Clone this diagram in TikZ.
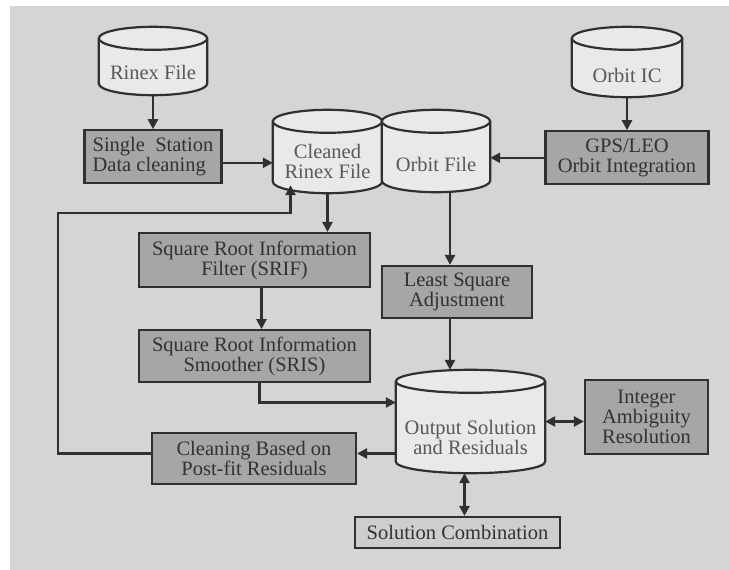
\documentclass[tikz,border=0pt]{standalone}
\usepackage{fontspec}
\setmainfont{Liberation Serif}
\usepackage{xcolor}
\usepackage{tikz}
\usetikzlibrary{arrows.meta, positioning, calc, backgrounds}

\definecolor{paper}{RGB}{213,213,213}
\definecolor{dbfill}{RGB}{233,233,233}
\definecolor{boxfill}{RGB}{166,166,166}
\definecolor{combfill}{RGB}{206,206,206}
\definecolor{ink}{RGB}{48,48,48}
\definecolor{txt}{RGB}{50,50,50}
\definecolor{dbtxt}{RGB}{88,88,88}

\begin{document}
\begin{tikzpicture}[
  x=1pt, y=-1pt,
  node distance=34pt,
  box/.style={draw=ink, line width=2.2pt, fill=boxfill, text=txt,
              font=\fontsize{20.5}{20}\selectfont, align=center,
              inner sep=2pt},
  combbox/.style={box, fill=combfill},
  db/.style={inner sep=0pt},
  dbtext/.style={text=dbtxt, font=\fontsize{20.5}{20}\selectfont,
                 align=center, inner sep=0pt},
  drum/.style={draw=ink, line width=2.2pt, fill=dbfill},
  arrow/.style={draw=ink, line width=2.4pt, -{Triangle[length=10pt,width=10pt]}},
  dblarrow/.style={draw=ink, line width=2.4pt,
                   {Triangle[length=10pt,width=10pt]}-{Triangle[length=10pt,width=10pt]}}
]
\useasboundingbox (0,0) rectangle (729,570);

% data stores (outline drawn below, on the background layer)
\node[db, minimum width=108pt, minimum height=68pt,
      label={[dbtext, yshift=-11pt]center:Rinex File}] (rinex) at (153,61) {};
\node[db, minimum width=109pt, minimum height=83pt,
      label={[dbtext, yshift=-10pt]center:Cleaned\\Rinex File}] (cleaned) at (327.5,151.5) {};
\node[db, minimum width=108pt, minimum height=82pt,
      label={[dbtext, yshift=-13pt]center:Orbit File}] (orbitf) at (436,151) {};
\node[db, minimum width=110pt, minimum height=70pt,
      label={[dbtext, yshift=-13pt]center:Orbit IC}] (orbitic) at (627,62) {};
\node[db, minimum width=149pt, minimum height=103pt,
      label={[dbtext, yshift=-16pt]center:Output Solution\\and Residuals}] (output) at (470.5,421.5) {};

% processing steps
\node[box, align=left, minimum width=137pt, minimum height=53pt, below=34pt of rinex]
      (single) {Single\enspace Station\\Data cleaning};
\node[box, minimum width=163pt, minimum height=53pt, below=33pt of orbitic] (gps) {GPS/LEO\\Orbit Integration};
\node[box, minimum width=231pt, minimum height=54pt] (srif) at (254.5,260) {Square Root Information\\Filter (SRIF)};
\node[box, minimum width=231pt, minimum height=52pt, below=41pt of srif] (sris) {Square Root Information\\Smoother (SRIS)};
\node[box, minimum width=150pt, minimum height=52pt] (lsa) at (457,292) {Least Square\\Adjustment};
\node[box, minimum width=123pt, minimum height=74pt] (iar) at (646.5,417) {Integer\\Ambiguity\\Resolution};
\node[box, minimum width=204pt, minimum height=51pt] (cleanpf) at (254,458.5) {Cleaning Based on\\Post-fit Residuals};
\node[combbox, minimum width=205pt, minimum height=31pt] (comb) at (457.5,532.5) {Solution Combination};

\begin{scope}[on background layer]
  \fill[white] (0,0) rectangle (729,570);
  \fill[paper] (10,6) rectangle (729,570);
  \foreach \db in {rinex,cleaned,orbitf,orbitic,output} {
    \path[drum] let \p1=(\db.north west), \p2=(\db.south east), \n1={(\x2-\x1)/2} in
      (\x1,\y1-11.5pt) -- (\x1,\y2+11.5pt)
      arc[start angle=180, end angle=360, x radius=\n1, y radius=11.5pt]
      -- (\x2,\y1-11.5pt)
      arc[start angle=0, end angle=180, x radius=\n1, y radius=11.5pt] -- cycle;
    \draw[drum, fill=none] let \p1=(\db.north west), \p2=(\db.south east), \n1={(\x2-\x1)/2} in
      (\x1,\y1-11.5pt) arc[start angle=180, end angle=360, x radius=\n1, y radius=11.5pt];
  }
\end{scope}

\coordinate (spine) at (450,0);
\coordinate (loop)  at (58,213);

\draw[arrow] (rinex) -- (single);
\draw[arrow] ($(single.east)+(0,6)$) -- ($(single.east -| cleaned.west)+(0,6)$);
\draw[arrow] (orbitic) -- (gps);
\draw[arrow] (gps.west) -- (gps.west -| orbitf.east);
\draw[arrow] (cleaned.south) -- (cleaned.south |- srif.north);
\draw[arrow] ($(srif.south)+(7,0)$) -- ($(sris.north)+(7,0)$);
\draw[arrow] (orbitf.south -| spine) -- (lsa.north -| spine);
\draw[arrow] (lsa.south -| spine) -- (output.north -| spine);
\draw[arrow] ($(sris.south)+(5,0)$) |- ($(output.west)+(0,-19)$);
\draw[arrow] ($(output.west |- cleanpf.east)+(0,-5)$) -- ($(cleanpf.east)+(0,-5)$);
\draw[arrow] ($(cleanpf.west)+(0,-5)$) -| (loop) -| ($(cleaned.south)+(-37,-8)$);
\draw[dblarrow] (output.east) -- (output.east -| iar.west);
\draw[dblarrow] ($(output.south)+(-6,0)$) -- ($(output.south |- comb.north)+(-6,0)$);
\end{tikzpicture}
\end{document}
